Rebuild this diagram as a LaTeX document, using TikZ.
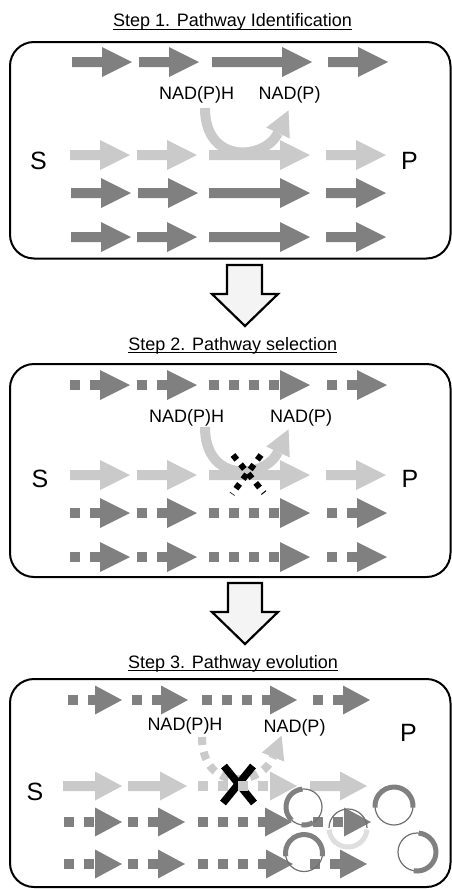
\documentclass[tikz,border=0pt]{standalone}
\usepackage{fontspec}
\setmainfont{Liberation Sans}
\definecolor{darkg}{RGB}{128,128,128}
\definecolor{lightg}{RGB}{201,202,201}
\definecolor{ringlight}{RGB}{222,222,222}
\definecolor{ringline}{RGB}{112,112,112}
\definecolor{blockfill}{RGB}{244,244,244}

% arrow geometry: head length, head half height, shaft half width
\newcommand\arrHL{30}
\newcommand\arrHW{15}
\newcommand\arrSW{5}

% solid block arrow: colour, x start, x tip, y
\newcommand\solidarrow[4]{%
  \fill[#1] (#2,#4+\arrSW) -- (#3-\arrHL,#4+\arrSW) -- (#3-\arrHL,#4+\arrHW)
    -- (#3,#4) -- (#3-\arrHL,#4-\arrHW) -- (#3-\arrHL,#4-\arrSW) -- (#2,#4-\arrSW) -- cycle;}
% dashed shaft with a solid head
\newcommand\dashedarrow[4]{%
  \draw[#1,line width=10pt,dash pattern=on 10pt off 10pt] (#2,#4) -- (#3-\arrHL,#4);
  \fill[#1] (#3-\arrHL,#4+\arrHW) -- (#3,#4) -- (#3-\arrHL,#4-\arrHW) -- cycle;}
% head of the cofactor arrow: base point, direction, length, half width
\newcommand\curvehead[4]{%
  \begin{scope}[shift={#1},rotate=#2]
    \fill[lightg] (0,#4) -- (#3,0) -- (0,-#4) -- cycle;
  \end{scope}}

\begin{document}
\begin{tikzpicture}[x=1pt,y=1pt,
  panel/.style={line width=2pt,rounded corners=24pt},
  ttl/.style={anchor=base,inner sep=0pt,font=\fontsize{18}{21}\selectfont},
  cof/.style={anchor=base,inner sep=0pt,font=\fontsize{18}{21}\selectfont},
  sp/.style={anchor=base,inner sep=0pt,font=\fontsize{25}{28}\selectfont},
  blockarrow/.style={draw=black,line width=2.2pt,fill=blockfill,line join=miter},
  ulin/.style={line width=0.9pt},
  ringthin/.style={ringline,line width=1.2pt},
  ringthick/.style={darkg,line width=5pt},
  ringpale/.style={ringlight,line width=5pt}]
\useasboundingbox (0,0) rectangle (452,-889);

% ---------------- Step 1 ----------------
\node[ttl] (title1) at (232.5,-26.7) {Step 1. Pathway Identification};
\draw[ulin] ([yshift=-2.3pt]title1.base west) -- ([yshift=-2.3pt]title1.base east);
\draw[panel] (10,-42) rectangle (450.5,-258.5);

\solidarrow{darkg}{72}{132}{-62}
\solidarrow{darkg}{139}{199}{-62}
\solidarrow{darkg}{212}{312}{-62}
\solidarrow{darkg}{328}{388}{-62}

% cofactor arrow
\draw[lightg,line width=10pt] (205,-108) .. controls (205,-165) and (265,-160) .. (278,-133);
\curvehead{(278,-133)}{65}{25}{13}

\solidarrow{lightg}{70}{130}{-155}
\solidarrow{lightg}{137}{197}{-155}
\solidarrow{lightg}{209}{310}{-155}
\solidarrow{lightg}{326}{386}{-155}

\solidarrow{darkg}{71}{131}{-193}
\solidarrow{darkg}{138}{198}{-193}
\solidarrow{darkg}{209}{310}{-193}
\solidarrow{darkg}{326}{386}{-193}

\solidarrow{darkg}{71}{131}{-237}
\solidarrow{darkg}{137}{197}{-237}
\solidarrow{darkg}{209}{310}{-237}
\solidarrow{darkg}{326}{386}{-237}

\node[cof] (nadh1) at (196.7,-99.3) {NAD(P)H};
\node[cof] (nad1) at (289.5,-99.3) {NAD(P)};
\node[sp] (s1) at (38.5,-169) {S};
\node[sp] (p1) at (409.5,-169) {P};

\draw[blockarrow] (227,-265) -- (262,-265) -- (262,-294) -- (278,-294) -- (245,-326)
  -- (212,-294) -- (227,-294) -- cycle;

% ---------------- Step 2 ----------------
\node[ttl] (title2) at (232.8,-350) {Step 2. Pathway selection};
\draw[ulin] ([yshift=-2.3pt]title2.base west) -- ([yshift=-2.3pt]title2.base east);
\draw[panel] (10,-364) rectangle (450.5,-577);

\dashedarrow{darkg}{70}{130}{-385}
\dashedarrow{darkg}{137}{197}{-385}
\dashedarrow{darkg}{209}{310}{-385}
\dashedarrow{darkg}{327}{387}{-385}

\draw[lightg,line width=10pt] (205,-427) .. controls (205,-484) and (265,-479) .. (278,-452);
\curvehead{(278,-452)}{65}{25}{13}

\solidarrow{lightg}{70}{130}{-475}
\solidarrow{lightg}{137}{197}{-475}
\solidarrow{lightg}{209}{310}{-475}
\solidarrow{lightg}{326}{386}{-475}

\dashedarrow{darkg}{70}{130}{-513}
\dashedarrow{darkg}{137}{197}{-513}
\dashedarrow{darkg}{209}{310}{-513}
\dashedarrow{darkg}{327}{387}{-513}

\dashedarrow{darkg}{70}{130}{-557}
\dashedarrow{darkg}{137}{197}{-557}
\dashedarrow{darkg}{209}{310}{-557}
\dashedarrow{darkg}{327}{387}{-557}

% broken cross on the cofactor step
\draw[black,line width=6pt,dash pattern=on 6pt off 6pt] (233,-455) -- (264,-493);
\draw[black,line width=6pt,dash pattern=on 6pt off 6pt] (261,-455) -- (232,-494);

\node[cof] (nadh2) at (186.7,-422) {NAD(P)H};
\node[cof] (nad2) at (301,-422) {NAD(P)};
\node[sp] (s2) at (40,-487) {S};
\node[sp] (p2) at (410,-487) {P};

\draw[blockarrow] (228,-583) -- (262,-583) -- (262,-612) -- (278,-612) -- (245,-644)
  -- (212,-612) -- (228,-612) -- cycle;

% ---------------- Step 3 ----------------
\node[ttl] (title3) at (233,-668) {Step 3. Pathway evolution};
\draw[ulin] ([yshift=-2.3pt]title3.base west) -- ([yshift=-2.3pt]title3.base east);
\draw[panel] (10,-679) rectangle (450.5,-887);

\renewcommand\arrHL{27}
\renewcommand\arrHW{14.5}

\dashedarrow{darkg}{68}{122}{-700}
\dashedarrow{darkg}{132}{188}{-700}
\dashedarrow{darkg}{202}{297}{-700}
\dashedarrow{darkg}{313}{370}{-700}

\solidarrow{lightg}{63}{122}{-786}
\solidarrow{lightg}{128}{187}{-786}
\dashedarrow{lightg}{198}{297}{-786}
\solidarrow{lightg}{310}{367}{-786}

\dashedarrow{darkg}{64}{122}{-822}
\dashedarrow{darkg}{128}{185}{-822}
\dashedarrow{darkg}{198}{292}{-822}
\dashedarrow{darkg}{313}{371}{-822}

\dashedarrow{darkg}{64}{122}{-864}
\dashedarrow{darkg}{128}{185}{-864}
\dashedarrow{darkg}{198}{293}{-864}
\dashedarrow{darkg}{310}{367}{-864}

% interrupted cofactor arrow
\draw[lightg,line width=8pt,dash pattern=on 8pt off 7pt] (202,-737) .. controls (202,-792) and (261,-787) .. (273,-757);
\curvehead{(273,-757)}{68}{23}{12}

% cross
\draw[black,line width=7.5pt] (224,-766) -- (254,-803);
\draw[black,line width=7.5pt] (253,-766) -- (223,-803);
\fill[lightg] (238,-781) rectangle (248,-791);

% plasmids
\draw[ringthin] (304,-807) circle[radius=18];
\draw[ringthick] (304,-807) ++(95:18) arc[start angle=95,end angle=227,radius=18];
\draw[ringthick] (304,-807) ++(262:18) arc[start angle=262,end angle=300,radius=18];

\draw[ringthin] (394,-806) circle[radius=19];
\draw[ringthick] (394,-806) ++(-5:19) arc[start angle=-5,end angle=185,radius=19];

\draw[ringpale] (348,-828) ++(185:19) arc[start angle=185,end angle=355,radius=19];
\draw[ringthin] (348,-828) ++(0:19) arc[start angle=0,end angle=180,radius=19];

\draw[ringthin] (304,-853) circle[radius=18.5];
\draw[ringthick] (304,-853) ++(-10:18.5) arc[start angle=-10,end angle=190,radius=18.5];

\draw[ringthin] (417,-852) circle[radius=19];
\draw[ringthick] (417,-852) ++(-100:19) arc[start angle=-100,end angle=85,radius=19];

\node[cof] (nadh3) at (185,-730) {NAD(P)H};
\node[cof] (nad3) at (294.5,-732) {NAD(P)};
\node[sp] (s3) at (35,-800) {S};
\node[sp] (p3) at (408.5,-741) {P};
\end{tikzpicture}
\end{document}
